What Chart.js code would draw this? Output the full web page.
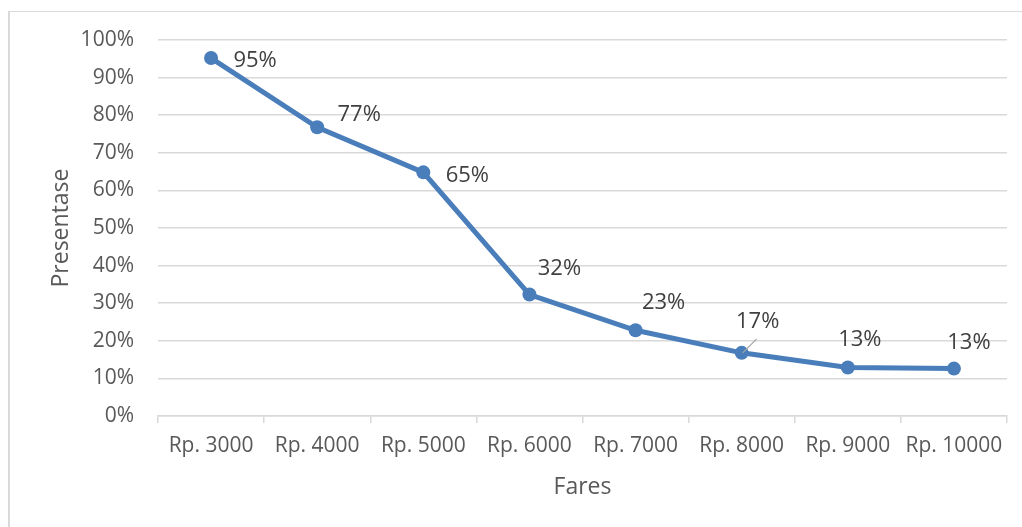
<!DOCTYPE html>
<html>
<head>
<meta charset="utf-8">
<script src="https://cdn.jsdelivr.net/npm/chart.js@4.4.1/dist/chart.umd.min.js"></script>
<style>
  html, body { margin: 0; padding: 0; background: #fff; overflow: hidden; }
  #wrap { position: relative; width: 1022px; height: 527px; }
  #frame { position: absolute; left: 8px; top: 11px; width: 1100px; height: 600px;
           border-left: 2px solid #d9d9d9; border-top: 1px solid #d9d9d9; box-sizing: border-box; }
  canvas { position: absolute; left: 0; top: 0; }
</style>
</head>
<body>
<div id="wrap">
  <div id="frame"></div>
  <canvas id="c" width="1022" height="527"></canvas>
</div>
<script>
const categories = ["Rp. 3000", "Rp. 4000", "Rp. 5000", "Rp. 6000", "Rp. 7000", "Rp. 8000", "Rp. 9000", "Rp. 10000"];
const percentages = [95.2, 76.8, 64.8, 32.3, 22.8, 16.8, 12.9, 12.6];
const yTicks = [0, 10, 20, 30, 40, 50, 60, 70, 80, 90, 100];

const FONT = "'Open Sans', 'Liberation Sans', sans-serif";
const BLUE = "#4a7ebb";

// label offsets (dx, dy) from each point, in px
const labelOffsets = [[44, 3], [42, -12], [44, 3], [30, -26], [28, -28], [16, -31], [12, -28], [15, -26]];

const dataLabels = {
  id: 'dataLabels',
  afterDatasetsDraw(chart) {
    const ctx = chart.ctx;
    const meta = chart.getDatasetMeta(0);
    ctx.save();
    ctx.font = "22px " + FONT;
    ctx.fillStyle = "#404040";
    ctx.textAlign = "center";
    ctx.textBaseline = "middle";
    meta.data.forEach((pt, i) => {
      const [dx, dy] = labelOffsets[i];
      if (i === 5) {
        ctx.strokeStyle = "#a6a6a6";
        ctx.lineWidth = 1.2;
        ctx.beginPath();
        ctx.moveTo(pt.x + 1, pt.y);
        ctx.lineTo(pt.x + 15, pt.y - 14);
        ctx.stroke();
      }
      ctx.fillText(Math.round(percentages[i]) + "%", pt.x + dx, pt.y + dy);
    });
    ctx.restore();
  }
};

new Chart(document.getElementById('c'), {
  type: 'line',
  data: {
    labels: categories,
    datasets: [{
      data: percentages,
      borderColor: BLUE,
      backgroundColor: BLUE,
      borderWidth: 5,
      pointRadius: 7,
      pointHoverRadius: 7,
      pointBackgroundColor: BLUE,
      pointBorderColor: BLUE,
      pointBorderWidth: 0,
      tension: 0
    }]
  },
  options: {
    responsive: false,
    animation: false,
    events: [],
    layout: { padding: { left: 0, top: 40, right: 15, bottom: 0 } },
    plugins: { legend: { display: false }, tooltip: { enabled: false } },
    scales: {
      x: {
        type: 'category',
        offset: true,
        grid: { offset: true, drawOnChartArea: false, drawTicks: true, tickLength: 7, color: "#d9d9d9", lineWidth: 1.5 },
        border: { display: true, color: "#d9d9d9", width: 1.5 },
        ticks: { color: "#595959", font: { family: FONT, size: 21 }, padding: 10, maxRotation: 0, autoSkip: false },
        title: { display: true, text: "Fares", color: "#595959", font: { family: FONT, size: 23 }, padding: { top: 0, bottom: 26 } },
        afterFit(s) { s.height = 111; }
      },
      y: {
        min: 0, max: 100,
        afterBuildTicks(s) { s.ticks = yTicks.map(v => ({ value: v })); },
        grid: { drawTicks: false, color: "#d9d9d9", lineWidth: 1.5 },
        border: { display: false },
        ticks: { color: "#595959", font: { family: FONT, size: 21 }, padding: 24, callback: v => v + "%" },
        title: { display: true, text: "Presentase", color: "#595959", font: { family: FONT, size: 23 }, padding: { top: 48, bottom: 0 } },
        afterFit(s) { s.width = 158; }
      }
    }
  },
  plugins: [dataLabels]
});
</script>
</body>
</html>
